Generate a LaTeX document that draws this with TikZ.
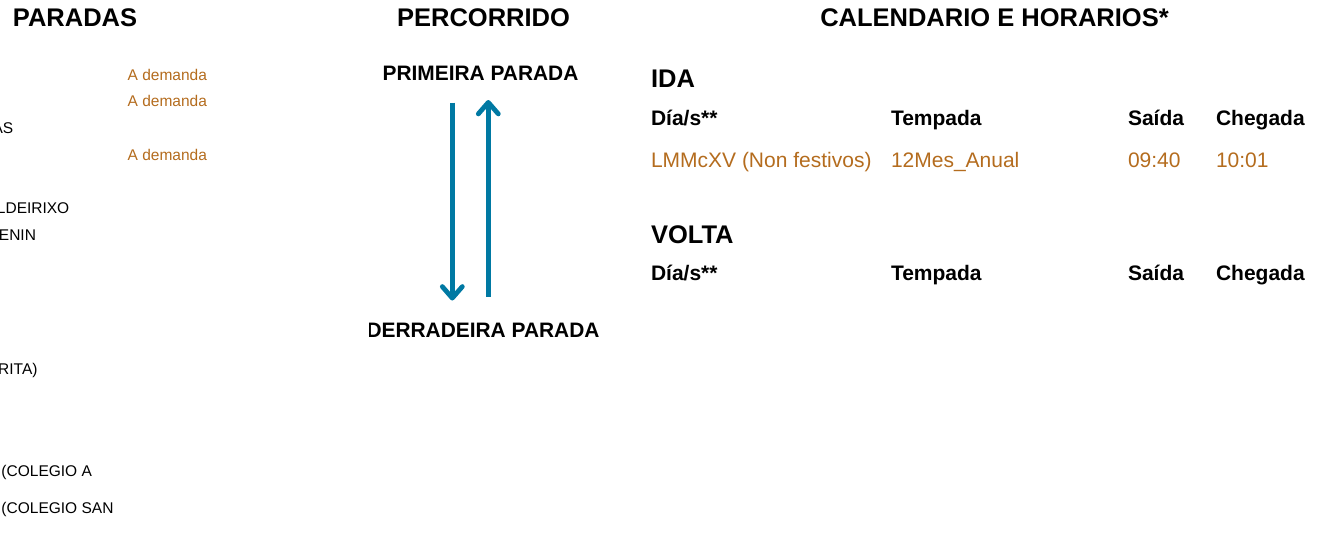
\documentclass[tikz,border=0pt]{standalone}
\usepackage{fontspec}
\setmainfont{Liberation Sans}
\usetikzlibrary{arrows.meta}
\definecolor{demandcol}{RGB}{180,108,30}
\definecolor{routecol}{RGB}{0,121,163}
\tikzset{
  txt/.style={inner sep=0pt, outer sep=0pt},
  titletxt/.style={txt, font=\fontsize{25.5}{30}\selectfont\bfseries},
  endtxt/.style={txt, font=\fontsize{20.9}{25}\selectfont\bfseries},
  stoptxt/.style={txt, font=\fontsize{15.5}{19}\selectfont},
  demandtxt/.style={txt, font=\fontsize{15.5}{19}\selectfont, text=demandcol},
  headtxt/.style={txt, font=\fontsize{21}{25}\selectfont\bfseries, anchor=base west},
  celltxt/.style={txt, font=\fontsize{21}{25}\selectfont, text=demandcol, anchor=base west},
  route/.style={draw=routecol, line width=4.8pt, -{Straight Barb[length=11.5pt,width=20pt,round]}}
}
\begin{document}
\begin{tikzpicture}[x=1pt,y=-1pt]
\useasboundingbox (0,0) rectangle (1324,538);
% titles
\node[titletxt, anchor=base] (tparadas) at (75,26) {PARADAS};
\node[titletxt, anchor=base] (tpercorrido) at (483.5,26) {PERCORRIDO};
\node[titletxt, anchor=base] (tcalendario) at (994.5,26) {CALENDARIO E HORARIOS*};
% stops column (cut at the left edge)
\node[demandtxt, anchor=base west] (d1) at (127.7,80) {A demanda};
\node[demandtxt, anchor=base west] (d2) at (127.7,106.5) {A demanda};
\node[stoptxt, anchor=base east] (s1) at (13.3,133) {AS};
\node[demandtxt, anchor=base west] (d3) at (127.7,160) {A demanda};
\node[stoptxt, anchor=base east] (s2) at (69.3,213) {LDEIRIXO};
\node[stoptxt, anchor=base east] (s3) at (36,240) {ENIN};
\node[stoptxt, anchor=base east] (s4) at (37.5,374) {RITA)};
\node[stoptxt, anchor=base west] (s5) at (1.5,476) {(COLEGIO A};
\node[stoptxt, anchor=base west] (s6) at (1.5,513) {(COLEGIO SAN};
% route
\node[endtxt, anchor=base] (first) at (480.5,80) {PRIMEIRA PARADA};
\begin{scope}
  \clip (369.5,300) rectangle (640,350);
  \node[endtxt, anchor=base east] (last) at (599.5,337) {DERRADEIRA PARADA};
\end{scope}
\coordinate (downstart) at (452.3,102.7);
\coordinate (downend) at (452.3,300.5);
\coordinate (upstart) at (488.3,296.7);
\coordinate (upend) at (488.3,100);
\draw[route] (downstart) -- (downend);
\draw[route] (upstart) -- (upend);
% timetable
\node[titletxt, anchor=base west] (ida) at (651,87) {IDA};
\node[headtxt] (h1) at (651,125) {Día/s**};
\node[headtxt] (h2) at (891,125) {Tempada};
\node[headtxt] (h3) at (1128,125) {Saída};
\node[headtxt] (h4) at (1216,125) {Chegada};
\node[celltxt] (c1) at (651,167.5) {LMMcXV (Non festivos)};
\node[celltxt] (c2) at (891,167.5) {12Mes\_Anual};
\node[celltxt] (c3) at (1128,167.5) {09:40};
\node[celltxt] (c4) at (1216,167.5) {10:01};
\node[titletxt, anchor=base west] (volta) at (651,243) {VOLTA};
\node[headtxt] (v1) at (651,280) {Día/s**};
\node[headtxt] (v2) at (891,280) {Tempada};
\node[headtxt] (v3) at (1128,280) {Saída};
\node[headtxt] (v4) at (1216,280) {Chegada};
\end{tikzpicture}
\end{document}
